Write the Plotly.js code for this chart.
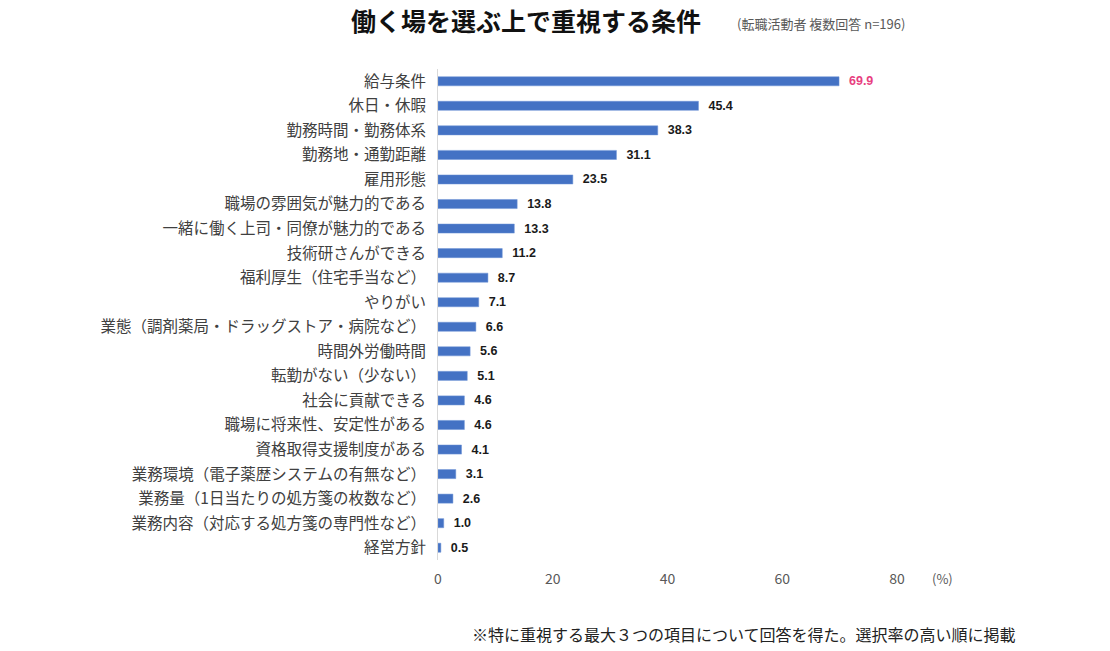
<!DOCTYPE html>
<html><head><meta charset="utf-8">
<script src="https://cdn.plot.ly/plotly-3.0.1.min.js"></script>
<style>html,body{margin:0;padding:0;background:#fff}#chart{width:1110px;height:651px}</style>
</head><body><div id="chart"></div>
<script>
const categories = [
  "給与条件","休日・休暇","勤務時間・勤務体系","勤務地・通勤距離","雇用形態",
  "職場の雰囲気が魅力的である","一緒に働く上司・同僚が魅力的である","技術研さんができる",
  "福利厚生（住宅手当など）","やりがい","業態（調剤薬局・ドラッグストア・病院など）",
  "時間外労働時間","転勤がない（少ない）","社会に貢献できる","職場に将来性、安定性がある",
  "資格取得支援制度がある","業務環境（電子薬歴システムの有無など）",
  "業務量（1日当たりの処方箋の枚数など）","業務内容（対応する処方箋の専門性など）","経営方針"
];
const values = [69.9,45.4,38.3,31.1,23.5,13.8,13.3,11.2,8.7,7.1,6.6,5.6,5.1,4.6,4.6,4.1,3.1,2.6,1.0,0.5];
const xTicks = [0,20,40,60,80];
const titleText = "働く場を選ぶ上で重視する条件";
const subtitleText = "(転職活動者 複数回答 n=196)";
const noteText = "※特に重視する最大３つの項目について回答を得た。選択率の高い順に掲載";

const font = "'Noto Sans CJK JP', 'Noto Sans', sans-serif";
const labelColors = values.map((v,i)=> i===0 ? "#E8407F" : "#1a1a1a");

const trace = {
  type: "bar", orientation: "h",
  x: values, y: categories,
  marker: {color: "#4472C4", line: {color: "#6F94D6", width: 0.5}},
  text: values.map(v=>"  " + v.toFixed(1)),
  textposition: "outside",
  constraintext: "none",
  cliponaxis: false,
  textfont: {family: "Arial, 'Liberation Sans', sans-serif", size: 12.5, color: labelColors, weight: "bold"},
  hoverinfo: "none"
};

const layout = {
  width: 1110, height: 651,
  margin: {l: 438, r: 213, t: 69, b: 91},
  paper_bgcolor: "#fff", plot_bgcolor: "#fff",
  showlegend: false,
  bargap: 0.63,
  font: {family: font},
  xaxis: {
    range: [0, 80], tickvals: xTicks, ticktext: xTicks.map(String),
    showgrid: false, zeroline: false, showline: false, ticks: "",
    ticklabelstandoff: 9,
    tickfont: {size: 14, color: "#595959", family: font}, fixedrange: true
  },
  yaxis: {
    autorange: "reversed", showgrid: false, zeroline: false,
    showline: true, linecolor: "#D9D9D9", linewidth: 1, ticks: "",
    ticklabelstandoff: 8,
    tickfont: {size: 15.5, color: "#404040", family: font}, fixedrange: true
  },
  annotations: [
    {text: titleText, xref: "paper", yref: "paper", x: (526-438)/459, y: (560-20)/491,
     xanchor: "center", yanchor: "middle", showarrow: false,
     font: {size: 25, color: "#111", family: font, weight: "bold"}},
    {text: subtitleText, xref: "paper", yref: "paper", x: (735-438)/459, y: (560-23)/491,
     xanchor: "left", yanchor: "middle", showarrow: false, font: {size: 13, color: "#595959", family: font}},
    {text: "(%)", xref: "paper", yref: "paper", x: (930-438)/459, y: (560-578)/491,
     xanchor: "left", yanchor: "middle", showarrow: false, font: {size: 13, color: "#595959", family: font}},
    {text: noteText, xref: "paper", yref: "paper", x: (1018-438)/459, y: (560-634)/491,
     xanchor: "right", yanchor: "middle", showarrow: false, font: {size: 16, color: "#222", family: font}}
  ]
};

Plotly.newPlot("chart", [trace], layout, {displayModeBar: false, staticPlot: true});
</script></body></html>
